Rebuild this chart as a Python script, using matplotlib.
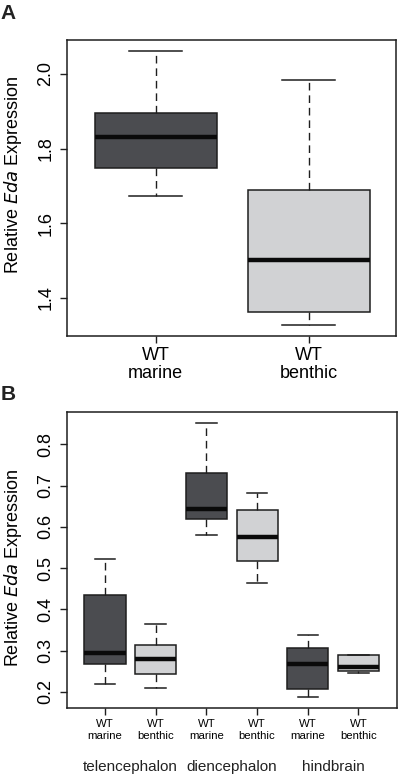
import numpy as np
import matplotlib.pyplot as plt

plt.rcParams['font.family'] = ['Liberation Sans', 'DejaVu Sans']

# panel A: whole head
a_labels = ['WT\nmarine', 'WT\nbenthic']
a_whislo = [1.673, 1.327]
a_q1 = [1.749, 1.363]
a_med = [1.832, 1.501]
a_q3 = [1.895, 1.690]
a_whishi = [2.060, 1.984]

# panel B: brain regions
b_labels = ['WT\nmarine', 'WT\nbenthic'] * 3
b_regions = ['telencephalon', 'diencephalon', 'hindbrain']
b_whislo = [0.220, 0.209, 0.580, 0.465, 0.189, 0.245]
b_q1 = [0.269, 0.244, 0.619, 0.517, 0.208, 0.251]
b_med = [0.295, 0.279, 0.644, 0.575, 0.268, 0.261]
b_q3 = [0.435, 0.315, 0.730, 0.640, 0.307, 0.289]
b_whishi = [0.523, 0.365, 0.852, 0.682, 0.339, 0.289]

dark = '#4b4c50'
light = '#d1d2d4'
edge = '#1e1e1e'


def make_stats(lo, q1, med, q3, hi):
    return [dict(whislo=a, q1=b, med=c, q3=d, whishi=e, fliers=[])
            for a, b, c, d, e in zip(lo, q1, med, q3, hi)]


def draw(ax, stats, fills, width, cap):
    pos = np.arange(1, len(stats) + 1)
    bp = ax.bxp(stats, positions=pos, widths=width, patch_artist=True,
                showfliers=False, capwidths=width * cap,
                boxprops=dict(edgecolor=edge, linewidth=1.1),
                medianprops=dict(color='#0a0a0a', linewidth=3.2, solid_capstyle='butt'),
                whiskerprops=dict(color=edge, linewidth=1.0, linestyle=(0, (5.5, 3.5))),
                capprops=dict(color=edge, linewidth=1.1))
    for patch, c in zip(bp['boxes'], fills):
        patch.set_facecolor(c)
    for s in ax.spines.values():
        s.set_linewidth(1.1)
        s.set_color(edge)
    ax.tick_params(direction='out', length=5, width=1, color=edge)
    return pos


fig = plt.figure(figsize=(4, 7.74), dpi=100)

axA = fig.add_axes([0.1675, 0.566, 0.8225, 0.3825])
pos = draw(axA, make_stats(a_whislo, a_q1, a_med, a_q3, a_whishi), [dark, light], 0.8, 0.43)
axA.set_xlim(0.42, 2.57)
axA.set_ylim(1.298, 2.091)
axA.set_yticks([1.4, 1.6, 1.8, 2.0])
axA.set_yticklabels(['1.4', '1.6', '1.8', '2.0'], rotation=90, va='center', fontsize=13)
axA.set_xticks(pos)
axA.set_xticklabels(a_labels, fontsize=13, linespacing=1.1)
axA.tick_params(axis='x', pad=3)
axA.tick_params(axis='y', pad=4)
axA.set_ylabel('Relative $\\mathit{Eda}$ Expression', fontsize=13)
axA.yaxis.set_label_coords(-0.13, 0.546)

axB = fig.add_axes([0.1675, 0.0857, 0.825, 0.3823])
pos = draw(axB, make_stats(b_whislo, b_q1, b_med, b_q3, b_whishi), [dark, light] * 3, 0.81, 0.5)
axB.set_xlim(0.25, 6.76)
axB.set_ylim(0.162, 0.879)
yt = [0.2, 0.3, 0.4, 0.5, 0.6, 0.7, 0.8]
axB.set_yticks(yt)
axB.set_yticklabels([f'{v:.1f}' for v in yt], rotation=90, va='center', fontsize=13)
axB.set_xticks(pos)
axB.set_xticklabels(b_labels, fontsize=8.2, linespacing=1.25)
axB.tick_params(axis='x', pad=3)
axB.tick_params(axis='y', pad=4)
axB.set_ylabel('Relative $\\mathit{Eda}$ Expression', fontsize=13)
axB.yaxis.set_label_coords(-0.13, 0.472)
for i, name in enumerate(b_regions):
    axB.text(pos[2 * i] + 0.5, -0.2, name, transform=axB.get_xaxis_transform(),
             ha='center', va='center', fontsize=11, color='#222222')

fig.text(0.002, 0.982, 'A', fontsize=15, fontweight='bold', ha='left', va='center', color='#222222')
fig.text(0.002, 0.49, 'B', fontsize=15, fontweight='bold', ha='left', va='center', color='#222222')

fig.savefig('out.png', dpi=100)
